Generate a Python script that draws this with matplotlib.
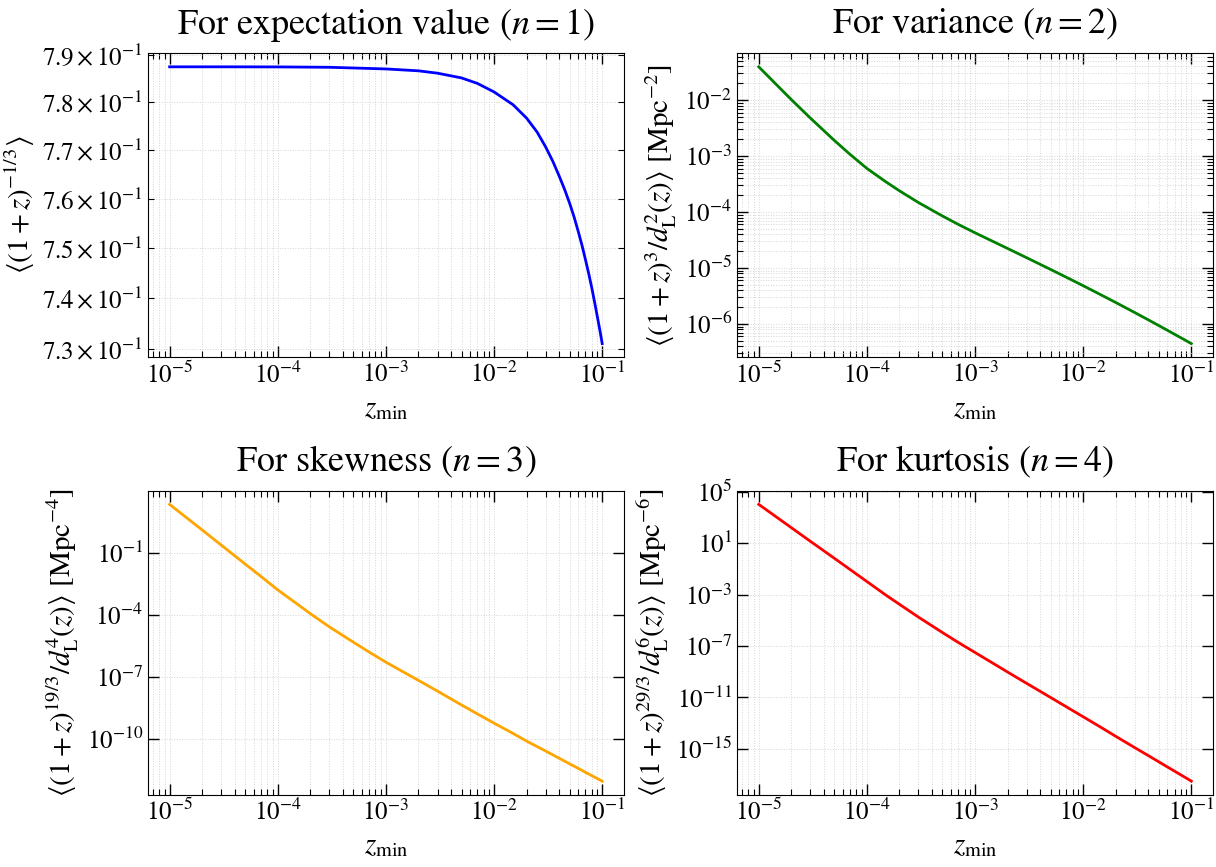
import matplotlib
matplotlib.use("Agg")
import matplotlib.pyplot as plt
import numpy as np
from matplotlib.ticker import LogLocator, NullLocator

# ---- data ----
# n = 1 : <(1+z)^(-1/3)>  (own z grid, denser at large z_min where it drops)
zmin_n1 = [1e-5, 3e-5, 1e-4, 3e-4, 1e-3, 2e-3, 3e-3, 5e-3, 7e-3, 1e-2, 1.5e-2,
           2e-2, 2.5e-2, 3e-2, 3.5e-2, 4e-2, 4.5e-2, 5e-2, 5.5e-2, 6e-2, 6.5e-2,
           7e-2, 7.5e-2, 8e-2, 8.5e-2, 9e-2, 9.5e-2, 1e-1]
mean_n1 = [0.78750, 0.78750, 0.78748, 0.78740, 0.78705, 0.78665, 0.78615, 0.78515,
           0.78400, 0.78220, 0.77950, 0.77670, 0.77380, 0.77070, 0.76770, 0.76470,
           0.76190, 0.75910, 0.75630, 0.75340, 0.75060, 0.74770, 0.74490, 0.74210,
           0.73920, 0.73640, 0.73370, 0.73100]

# n = 2,3,4 : log10 of the moments
zmin = [1e-5, 2e-5, 3e-5, 5e-5, 7e-5, 1e-4, 1.5e-4, 2e-4, 3e-4, 5e-4, 7e-4,
        1e-3, 2e-3, 3e-3, 5e-3, 7e-3, 1e-2, 1.5e-2, 2e-2, 3e-2, 4e-2, 5e-2,
        6e-2, 7e-2, 8e-2, 9e-2, 1e-1]
log_n2 = [-1.405, -1.99, -2.32, -2.72, -2.97, -3.22, -3.46, -3.62, -3.83, -4.07, -4.22,
          -4.37, -4.65, -4.815, -5.025, -5.165, -5.315, -5.49, -5.615, -5.795, -5.925, -6.027,
          -6.111, -6.183, -6.245, -6.300, -6.35]
log_n3 = [1.34, 0.10, -0.63, -1.55, -2.15, -2.80, -3.47, -3.95, -4.59, -5.33, -5.81,
          -6.30, -7.18, -7.70, -8.37, -8.80, -9.25, -9.75, -10.12, -10.60, -10.95, -11.22,
          -11.44, -11.63, -11.79, -11.93, -12.06]
log_n4 = [4.02, 2.21, 1.15, -0.17, -1.05, -1.98, -3.04, -3.75, -4.75, -5.95, -6.72,
          -7.50, -9.02, -9.90, -11.00, -11.73, -12.50, -13.38, -14.02, -14.90, -15.52, -16.00,
          -16.40, -16.73, -17.02, -17.27, -17.51]

titles = [r'For expectation value ($n=1$)', r'For variance ($n=2$)',
          r'For skewness ($n=3$)', r'For kurtosis ($n=4$)']
ylabels = [r'$\langle(1+z)^{-1/3}\rangle$',
           r'$\langle(1+z)^{3}/d_{\rm L}^{2}(z)\rangle$ [Mpc$^{-2}$]',
           r'$\langle(1+z)^{19/3}/d_{\rm L}^{4}(z)\rangle$ [Mpc$^{-4}$]',
           r'$\langle(1+z)^{29/3}/d_{\rm L}^{6}(z)\rangle$ [Mpc$^{-6}$]']
colors = ['blue', 'green', 'orange', 'red']

plt.rcParams.update({
    'font.family': 'serif',
    'font.serif': ['STIXGeneral', 'Liberation Serif', 'DejaVu Serif'],
    'mathtext.fontset': 'stix',
    'font.size': 18,
    'axes.titlesize': 26,
    'axes.labelsize': 21,
    'xtick.labelsize': 18,
    'ytick.labelsize': 18,
})

xvals = [zmin_n1, zmin, zmin, zmin]
yvals = [np.array(mean_n1), 10**np.array(log_n2), 10**np.array(log_n3), 10**np.array(log_n4)]

fig, axes = plt.subplots(2, 2, figsize=(12.16, 8.67), dpi=100)
fig.subplots_adjust(left=0.1217, right=0.9975, top=0.9389, bottom=0.0830,
                    wspace=0.238, hspace=0.437)

for i, ax in enumerate(axes.flat):
    ax.plot(xvals[i], yvals[i], color=colors[i], lw=2)
    ax.set_xscale('log')
    ax.set_yscale('log')
    ax.set_title(titles[i], pad=14)
    ax.set_xlabel(r'$z_{\rm min}$', labelpad=6)
    ax.set_ylabel(ylabels[i])
    ax.xaxis.set_major_locator(LogLocator(base=10, numticks=20))
    ax.xaxis.set_minor_locator(LogLocator(base=10, subs=np.arange(2, 10), numticks=20))
    ax.tick_params(which='both', direction='in', top=True, right=True)
    ax.tick_params(which='major', length=8, width=1)
    ax.tick_params(which='minor', length=4.5, width=0.8)
    ax.grid(True, which='both', linestyle=':', color='#cccccc', linewidth=0.7, alpha=0.8)

# y ticks for the higher moments
axes[1, 0].set_yticks([1e-10, 1e-7, 1e-4, 1e-1])
axes[1, 0].yaxis.set_minor_locator(NullLocator())
axes[1, 1].set_yticks([1e-15, 1e-11, 1e-7, 1e-3, 1e1, 1e5])
axes[1, 1].yaxis.set_minor_locator(NullLocator())

plt.savefig("out.png", dpi=100)
